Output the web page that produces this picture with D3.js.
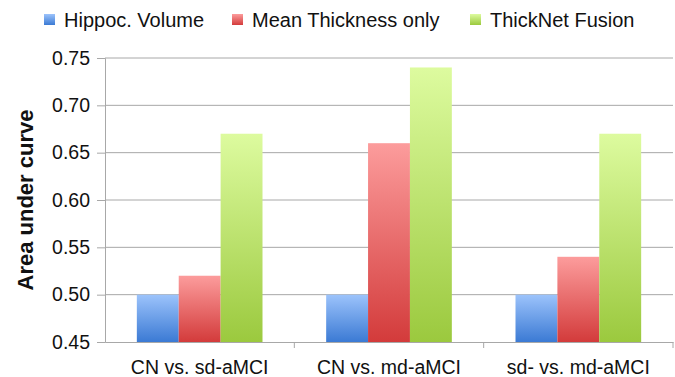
<!DOCTYPE html>
<html>
<head>
<meta charset="utf-8">
<script src="https://cdn.jsdelivr.net/npm/d3@7"></script>
<style>
  body { margin: 0; background: #fff; }
  text { font-family: "Liberation Sans", Arial, sans-serif; fill: #111; }
</style>
</head>
<body>
<div id="chart"></div>
<script>
const categories = ["CN vs. sd-aMCI", "CN vs. md-aMCI", "sd- vs. md-aMCI"];
const seriesNames = ["Hippoc. Volume", "Mean Thickness only", "ThickNet Fusion"];
const hippocVolume = [0.50, 0.50, 0.50];
const meanThickness = [0.52, 0.66, 0.54];
const thickNetFusion = [0.67, 0.74, 0.67];
const yTicks = [0.45, 0.50, 0.55, 0.60, 0.65, 0.70, 0.75];

const seriesValues = [hippocVolume, meanThickness, thickNetFusion];
const gradients = [
    ["#9cc3fb", "#3b7ad4"],
    ["#fc9c9c", "#d33b3b"],
    ["#ddfb9f", "#9bc93e"]
];

const width = 675, height = 377;
const margin = { top: 58, right: 2, bottom: 35, left: 105 };

const svg = d3.select("#chart")
    .append("svg")
    .attr("width", width)
    .attr("height", height);

// gradients for the bars
const defs = svg.append("defs");
gradients.forEach(function (g, i) {
    const lg = defs.append("linearGradient")
        .attr("id", "grad" + i)
        .attr("x1", 0).attr("y1", 0)
        .attr("x2", 0).attr("y2", 1);
    lg.append("stop").attr("offset", "0%").attr("stop-color", g[0]);
    lg.append("stop").attr("offset", "100%").attr("stop-color", g[1]);
});

const x = d3.scaleBand()
    .domain(categories)
    .range([margin.left, width - margin.right]);

const xInner = d3.scaleBand()
    .domain(d3.range(seriesNames.length))
    .range([0, x.bandwidth()])
    .paddingOuter(0.76)
    .paddingInner(0);

const y = d3.scaleLinear()
    .domain([0.45, 0.75])
    .range([height - margin.bottom, margin.top]);

// gridlines
svg.append("g")
    .selectAll("line")
    .data(yTicks.slice(1))
    .enter()
    .append("line")
    .attr("x1", margin.left)
    .attr("x2", width - margin.right)
    .attr("y1", (d) => y(d))
    .attr("y2", (d) => y(d))
    .attr("stroke", "#a8a8a8")
    .attr("stroke-width", 1);

// bars
const rows = [];
categories.forEach(function (c, ci) {
    seriesValues.forEach(function (s, si) {
        rows.push({ cat: c, series: si, value: s[ci] });
    });
});

svg.append("g")
    .selectAll("rect")
    .data(rows)
    .enter()
    .append("rect")
    .attr("x", (d) => x(d.cat) + xInner(d.series))
    .attr("y", (d) => y(d.value))
    .attr("width", xInner.bandwidth())
    .attr("height", (d) => y(0.45) - y(d.value))
    .attr("fill", (d) => "url(#grad" + d.series + ")");

// y axis
const yAxis = d3.axisLeft(y)
    .tickValues(yTicks)
    .tickFormat(d3.format(".2f"))
    .tickSize(8)
    .tickPadding(7);

const yg = svg.append("g")
    .attr("transform", "translate(" + margin.left + ",0)")
    .call(yAxis);
yg.select(".domain").attr("stroke", "#a8a8a8");
yg.selectAll(".tick line").attr("stroke", "#a8a8a8");
yg.selectAll(".tick text")
    .attr("font-size", "19.5px")
    .style("font-family", "'Liberation Sans', Arial, sans-serif")
    .attr("fill", "#111");

// x axis
const xAxis = d3.axisBottom(x)
    .tickSize(0)
    .tickPadding(18);

const xg = svg.append("g")
    .attr("transform", "translate(0," + y(0.45) + ")")
    .call(xAxis);
xg.select(".domain").attr("stroke", "#a8a8a8");
xg.selectAll(".tick text")
    .attr("font-size", "19.5px")
    .style("font-family", "'Liberation Sans', Arial, sans-serif")
    .attr("fill", "#111");

// category separator ticks
xg.selectAll("line.sep")
    .data(categories)
    .enter()
    .append("line")
    .attr("class", "sep")
    .attr("x1", (d) => x(d) + x.bandwidth())
    .attr("x2", (d) => x(d) + x.bandwidth())
    .attr("y1", 0)
    .attr("y2", 6)
    .attr("stroke", "#a8a8a8");

// y axis title
svg.append("text")
    .attr("transform", "translate(33," + ((margin.top + y(0.45)) / 2) + ") rotate(-90)")
    .attr("text-anchor", "middle")
    .attr("font-size", "22px")
    .attr("font-weight", "bold")
    .text("Area under curve");

// legend
const legendX = [44, 232, 470];
const legend = svg.append("g")
    .selectAll("g")
    .data(seriesNames)
    .enter()
    .append("g")
    .attr("transform", (d, i) => "translate(" + legendX[i] + ",14)");

legend.append("rect")
    .attr("width", 11)
    .attr("height", 11)
    .attr("fill", (d, i) => "url(#grad" + i + ")");

legend.append("text")
    .attr("x", 20)
    .attr("y", 13)
    .attr("font-size", "20px")
    .text((d) => d);
</script>
</body>
</html>
